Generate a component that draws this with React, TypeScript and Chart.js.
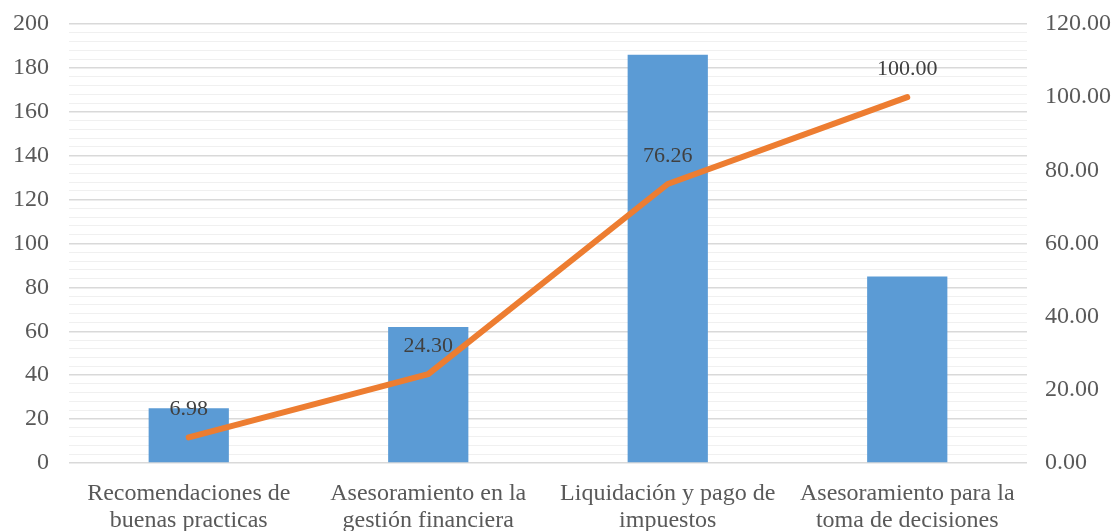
import React, { useEffect, useRef } from "react";
import { Chart, registerables } from "chart.js";

Chart.register(...registerables);

const categories: string[][] = [
  ["Recomendaciones de", "buenas practicas"],
  ["Asesoramiento en la", "gestión financiera"],
  ["Liquidación y pago de", "impuestos"],
  ["Asesoramiento para la", "toma de decisiones"],
];
const frequencies = [25, 62, 186, 85];
const cumulativePct = [6.98, 24.3, 76.26, 100.0];

const FONT = "'Liberation Serif', 'Times New Roman', serif";

const labelPlugin = {
  id: "lineLabels",
  afterDatasetsDraw(chart: any) {
    const meta = chart.getDatasetMeta(1);
    const ctx = chart.ctx;
    ctx.save();
    ctx.font = `22px ${FONT}`;
    ctx.fillStyle = "#404040";
    ctx.textAlign = "center";
    ctx.textBaseline = "middle";
    meta.data.forEach((pt: any, i: number) => {
      ctx.fillText(cumulativePct[i].toFixed(2), pt.x, pt.y - 28);
    });
    ctx.restore();
  },
};

const noVPad = (s: any) => {
  s.paddingTop = 0;
  s.paddingBottom = 0;
};

export default function App() {
  const ref = useRef<HTMLCanvasElement>(null);
  useEffect(() => {
    if (!ref.current) return;
    const chart = new Chart(ref.current, {
      type: "bar",
      data: {
        labels: categories,
        datasets: [
          {
            type: "bar",
            data: frequencies,
            backgroundColor: "#5B9BD5",
            yAxisID: "y",
            barPercentage: 0.335,
            categoryPercentage: 1,
            order: 2,
          },
          {
            type: "line",
            data: cumulativePct,
            borderColor: "#ED7D31",
            borderWidth: 6,
            pointRadius: 0,
            borderCapStyle: "round",
            borderJoinStyle: "round",
            yAxisID: "y1",
            order: 1,
          } as any,
        ],
      },
      options: {
        animation: false,
        responsive: false,
        maintainAspectRatio: false,
        layout: { padding: { top: 24, left: 0, right: 0, bottom: 0 } },
        plugins: { legend: { display: false }, tooltip: { enabled: false } },
        scales: {
          x: {
            grid: { display: false },
            border: { display: false },
            ticks: {
              color: "#595959",
              font: { family: FONT, size: 24, lineHeight: 1.1 },
              padding: 10,
              maxRotation: 0,
              autoSkip: false,
            },
            afterFit: (s: any) => {
              s.height = 68;
              s.paddingLeft = 0;
              s.paddingRight = 0;
            },
          },
          y: {
            position: "left",
            min: 0,
            max: 200,
            grid: {
              color: (c: any) => (c.tick && c.tick.value % 20 === 0 ? "#d9d9d9" : "#f0f0f0"),
              lineWidth: (c: any) => (c.tick && c.tick.value % 20 === 0 ? 1.5 : 1),
              drawTicks: false,
            },
            border: { display: false },
            ticks: {
              stepSize: 4,
              autoSkip: false,
              color: "#595959",
              font: { family: FONT, size: 24 },
              padding: 20,
              callback: (v: any) => (v % 20 === 0 ? String(v) : ""),
            },
            afterFit: (s: any) => {
              s.width = 69;
              noVPad(s);
            },
          },
          y1: {
            position: "right",
            min: 0,
            max: 120,
            grid: { display: false, drawTicks: false },
            border: { display: false },
            ticks: {
              stepSize: 20,
              color: "#595959",
              font: { family: FONT, size: 24 },
              padding: 18,
              callback: (v: any) => Number(v).toFixed(2),
            },
            afterFit: (s: any) => {
              s.width = 88;
              noVPad(s);
            },
          },
        },
      },
      plugins: [labelPlugin],
    });
    return () => chart.destroy();
  }, []);
  return (
    <div style={{ position: "fixed", left: 0, top: 0, width: 1115, height: 531, background: "#fff" }}>
      <canvas ref={ref} width={1115} height={531} style={{ display: "block" }} />
    </div>
  );
}
